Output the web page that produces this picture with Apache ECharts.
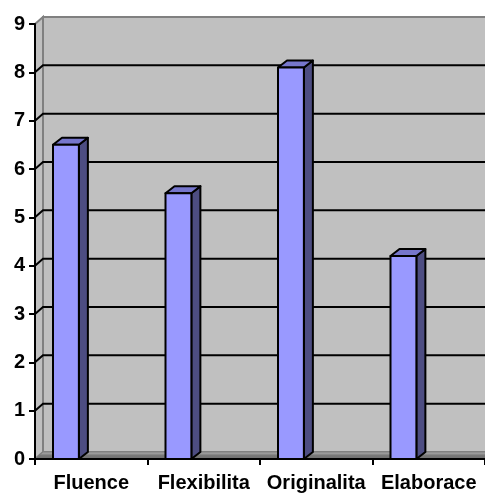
<!DOCTYPE html>
<html>
<head>
<meta charset="utf-8">
<script src="https://cdn.jsdelivr.net/npm/echarts@6/dist/echarts.min.js"></script>
<style>
  html, body { margin: 0; padding: 0; background: #ffffff; }
  #chart { width: 485px; height: 493px; }
</style>
</head>
<body>
<div id="chart"></div>
<script>
// Scores per creativity dimension
const categories = ['Fluence', 'Flexibilita', 'Originalita', 'Elaborace'];
const scores = [6.5, 5.5, 8.1, 4.2];
const yMin = 0, yMax = 9, yStep = 1;
const gridValues = [1, 2, 3, 4, 5, 6, 7, 8];

// Depth offset of the pseudo-3D box
const DX = 8, DY = -7;
const BAR_DX = 9, BAR_DY = -7;

const FONT = '"Liberation Sans", Arial, sans-serif';

const chart = echarts.init(document.getElementById('chart'), null, { renderer: 'canvas' });

function renderWalls(params, api) {
  const cs = params.coordSys;
  const x0 = cs.x, y0 = cs.y, w = cs.width, h = cs.height;
  const yb = y0 + h;
  const children = [];
  // back wall
  children.push({
    type: 'polygon',
    shape: { points: [[x0 + DX, y0 + DY], [x0 + w + DX, y0 + DY], [x0 + w + DX, yb + DY], [x0 + DX, yb + DY]] },
    style: { fill: '#c0c0c0', stroke: '#808080', lineWidth: 2 }
  });
  // left side wall
  children.push({
    type: 'polygon',
    shape: { points: [[x0, y0], [x0 + DX, y0 + DY], [x0 + DX, yb + DY], [x0, yb]] },
    style: { fill: '#c0c0c0', stroke: '#808080', lineWidth: 2 }
  });
  // floor
  children.push({
    type: 'polygon',
    shape: { points: [[x0, yb], [x0 + DX, yb + DY], [x0 + w + DX, yb + DY], [x0 + w, yb]] },
    style: {
      fill: new echarts.graphic.LinearGradient(0, 0, 0, 1, [
        { offset: 0, color: '#a4a4a4' },
        { offset: 0.35, color: '#969696' },
        { offset: 0.4, color: '#7a7a7a' },
        { offset: 1, color: '#6e6e6e' }
      ]),
      stroke: '#808080', lineWidth: 1
    }
  });
  // grid lines: short diagonal on the side wall, then across the back wall
  gridValues.forEach(function (v) {
    const yv = api.coord([0, v])[1];
    children.push({
      type: 'polyline',
      shape: { points: [[x0, yv], [x0 + DX, yv + DY], [x0 + w + DX, yv + DY]] },
      style: { stroke: '#000000', lineWidth: 2, fill: null }
    });
  });
  return { type: 'group', children: children };
}

function renderBar(params, api) {
  const idx = api.value(0);
  const val = api.value(1);
  const top = api.coord([idx, val]);
  const base = api.coord([idx, 0]);
  const band = api.size([1, 0])[0];
  const xl = top[0] - band / 2 + band * 0.16;
  const bw = band * 0.23;
  const xr = xl + bw;
  const yt = top[1];
  const yb = base[1];
  const line = { stroke: '#000000', lineWidth: 2, lineJoin: 'round' };
  return {
    type: 'group',
    children: [
      {
        type: 'polygon',
        shape: { points: [[xr, yt], [xr + BAR_DX, yt + BAR_DY], [xr + BAR_DX, yb + BAR_DY], [xr, yb]] },
        style: Object.assign({ fill: '#4d4d82' }, line)
      },
      {
        type: 'polygon',
        shape: { points: [[xl, yt], [xl + BAR_DX, yt + BAR_DY], [xr + BAR_DX, yt + BAR_DY], [xr, yt]] },
        style: Object.assign({ fill: '#7676cc' }, line)
      },
      {
        type: 'rect',
        shape: { x: xl, y: yt, width: bw, height: yb - yt },
        style: Object.assign({ fill: '#9999ff' }, line)
      }
    ]
  };
}

const option = {
  animation: false,
  backgroundColor: '#ffffff',
  grid: { left: 35, right: -2, top: 24, bottom: 33, containLabel: false },
  xAxis: {
    type: 'category',
    data: categories,
    boundaryGap: true,
    z: 10,
    axisLine: { show: true, lineStyle: { color: '#000000', width: 2 } },
    axisTick: { show: true, length: 6, lineStyle: { color: '#000000', width: 2 } },
    axisLabel: {
      color: '#000000', fontFamily: FONT, fontWeight: 'bold', fontSize: 20,
      margin: 14, interval: 0
    },
    splitLine: { show: false }
  },
  yAxis: {
    type: 'value',
    min: yMin, max: yMax, interval: yStep,
    z: 10,
    axisLine: { show: true, lineStyle: { color: '#000000', width: 2 } },
    axisTick: { show: true, length: 6, lineStyle: { color: '#000000', width: 2 } },
    axisLabel: {
      color: '#000000', fontFamily: FONT, fontWeight: 'bold', fontSize: 20,
      margin: 10
    },
    splitLine: { show: false }
  },
  series: [
    {
      type: 'custom',
      name: 'walls',
      silent: true,
      clip: false,
      z: 1,
      data: [[0, 0]],
      renderItem: renderWalls
    },
    {
      type: 'custom',
      name: 'scores',
      clip: false,
      z: 3,
      data: scores.map(function (v, i) { return [i, v]; }),
      encode: { x: 0, y: 1 },
      renderItem: renderBar
    }
  ]
};

chart.setOption(option);
</script>
</body>
</html>
